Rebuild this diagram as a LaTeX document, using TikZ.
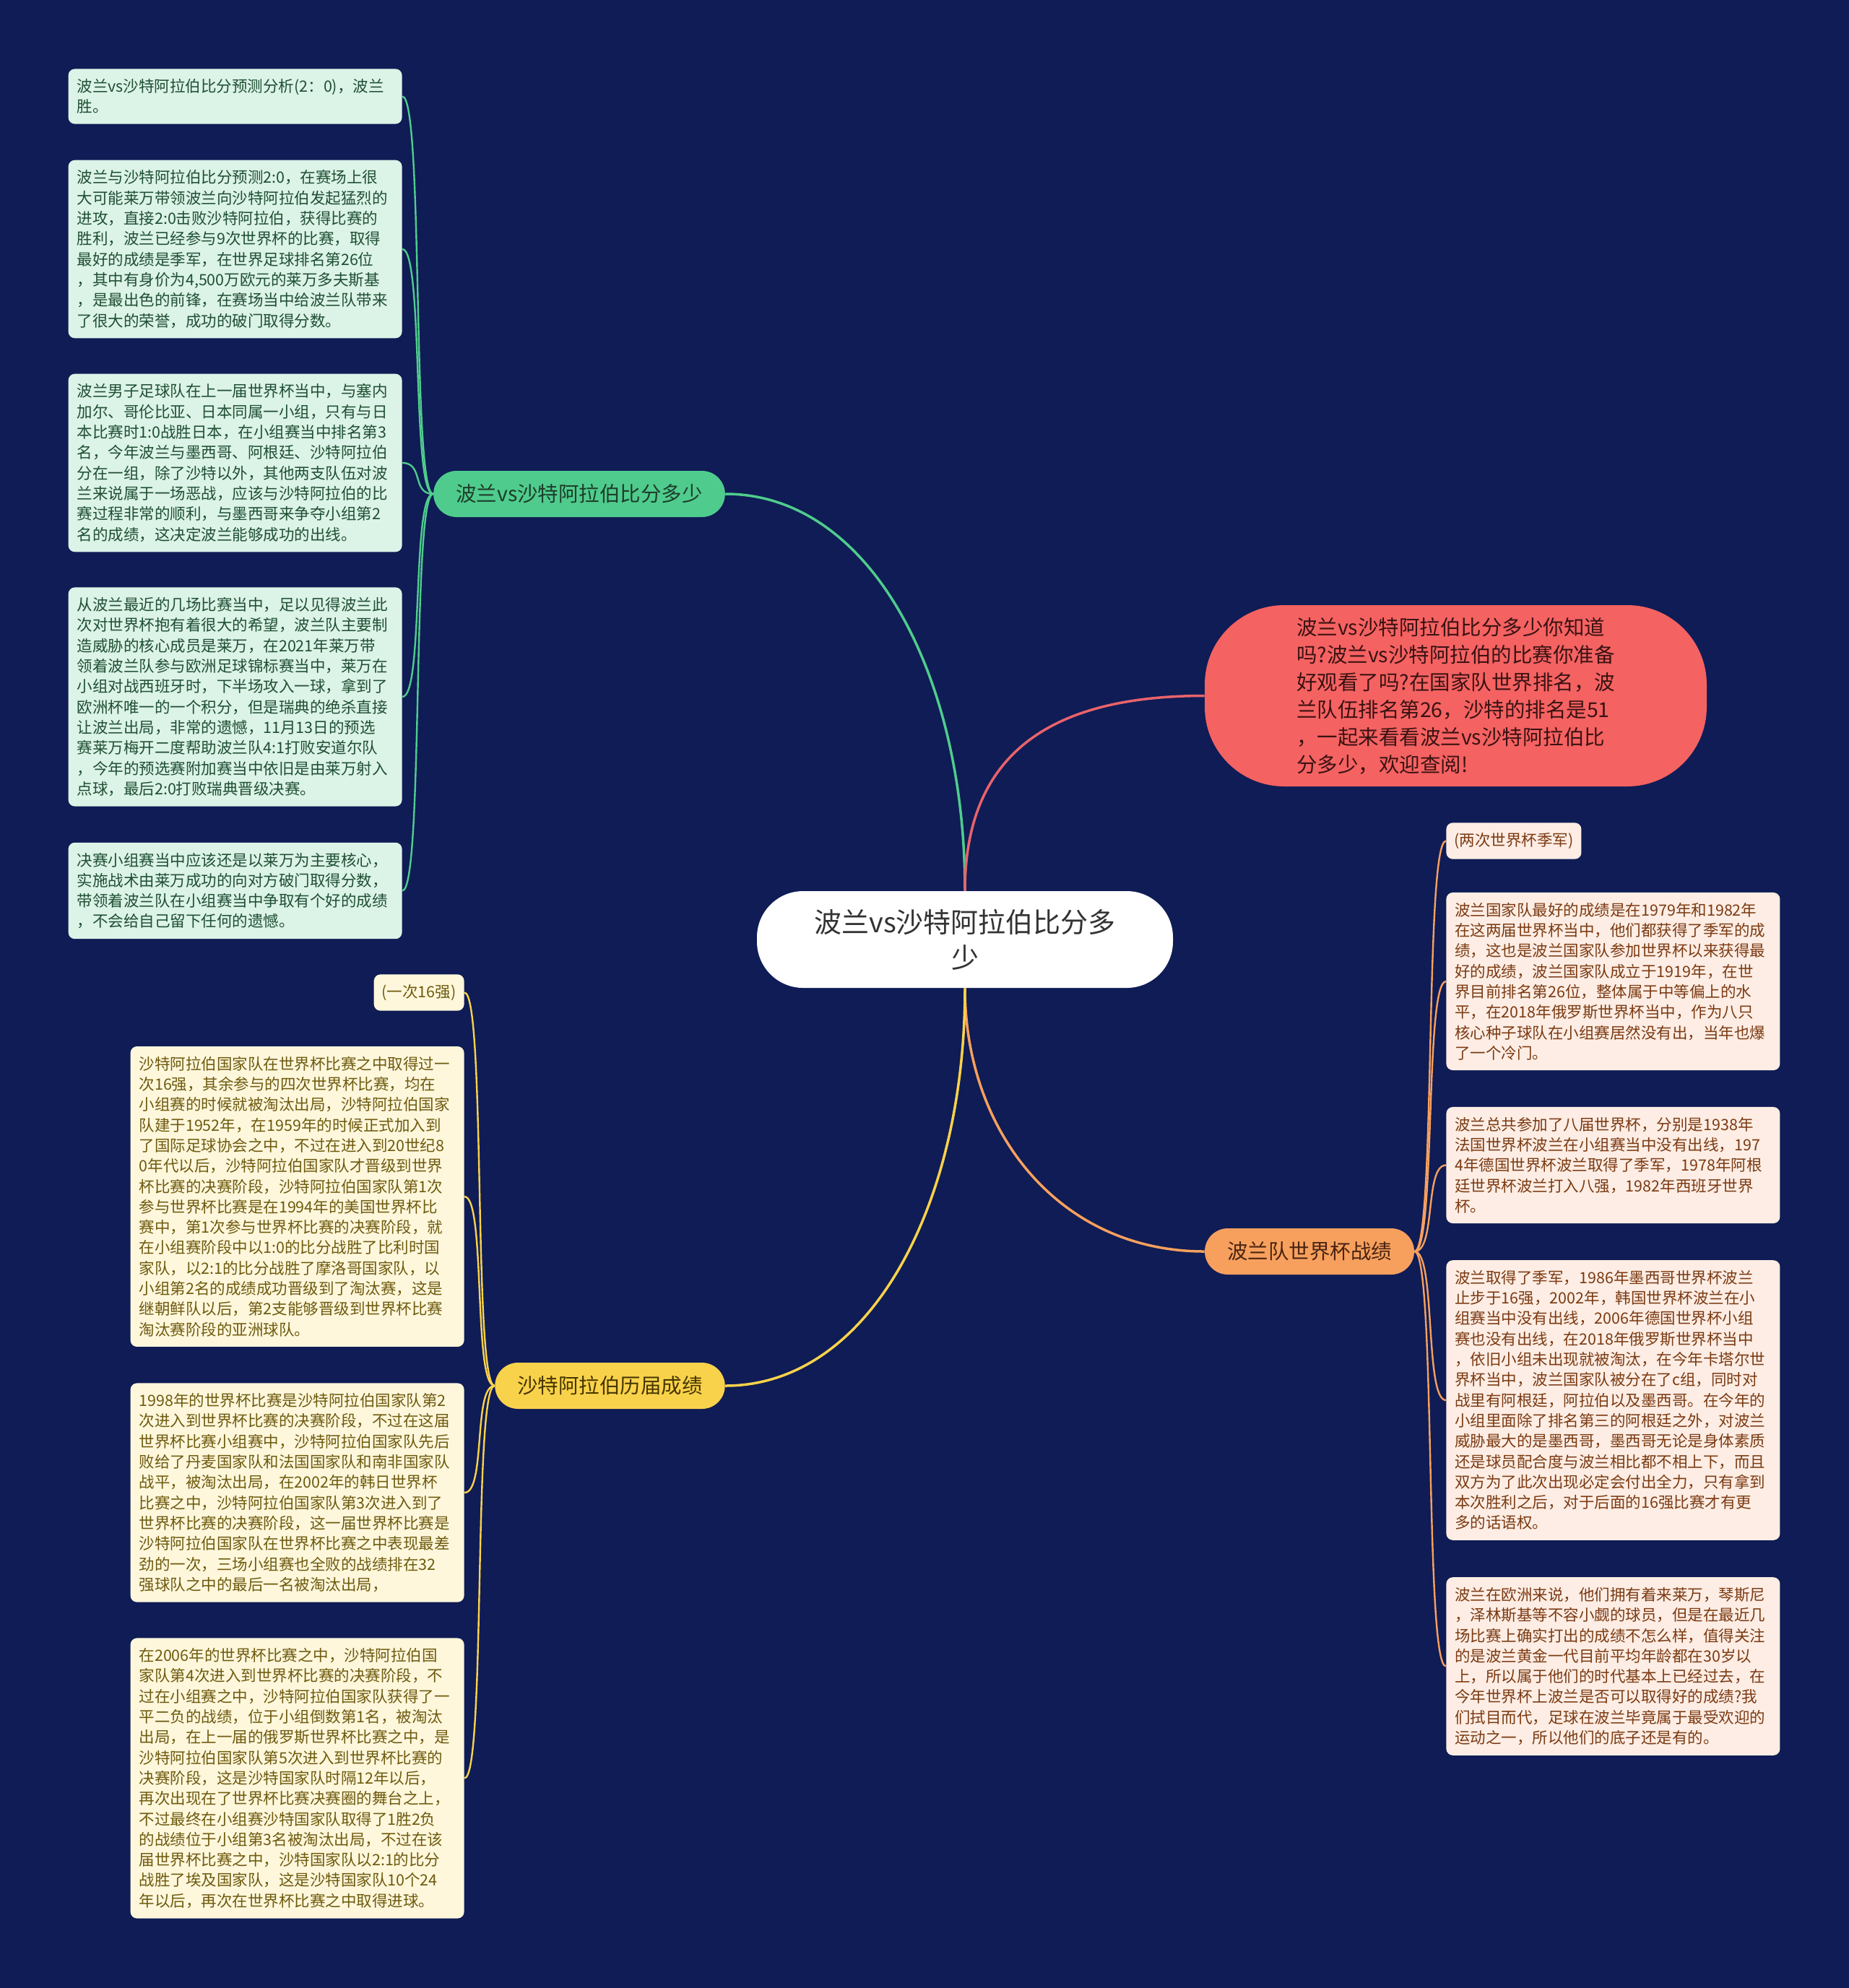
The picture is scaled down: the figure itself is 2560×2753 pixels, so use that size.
\documentclass[tikz,border=0pt]{standalone}
\usepackage{fontspec}
\setmainfont{Noto Sans CJK SC}

\definecolor{bgnavy}{HTML}{0F1C55}
\definecolor{rootink}{HTML}{333333}
\definecolor{introred}{HTML}{F56262}
\definecolor{introink}{HTML}{3A1212}
\definecolor{topicgreen}{HTML}{4FCC8D}
\definecolor{topicorange}{HTML}{F7A05E}
\definecolor{topicyellow}{HTML}{F9D24B}
\definecolor{lineRed}{HTML}{E9636B}
\definecolor{greenink}{HTML}{1E3D2B}
\definecolor{orangeink}{HTML}{4A2410}
\definecolor{yellowink}{HTML}{463600}
\definecolor{gleaffill}{HTML}{DCF3E7}
\definecolor{gleafink}{HTML}{1F4F33}
\definecolor{yleaffill}{HTML}{FEF7DC}
\definecolor{yleafink}{HTML}{6E5A0E}
\definecolor{oleaffill}{HTML}{FDEDE4}
\definecolor{oleafink}{HTML}{7B3A12}

\begin{document}
\begin{tikzpicture}[x=0.5pt, y=-0.5pt,
    root/.style={fill=white, rounded corners=32pt, minimum width=288pt, minimum height=67pt,
                 align=center, text=rootink, font=\fontsize{19}{24.5}\selectfont},
    intro/.style={fill=introred, rounded corners=55pt, minimum width=347.5pt, minimum height=125.5pt,
                  align=left, text=introink, font=\fontsize{14.25}{19}\selectfont},
    topic/.style={rounded corners=16pt, minimum height=32pt, inner xsep=15.5pt,
                  font=\fontsize{14.25}{17}\selectfont},
    leaf/.style={rounded corners=4.5pt, text width=219pt, inner xsep=6pt, inner ysep=7pt,
                 align=left, font=\fontsize{10.75}{14.15}\selectfont},
    tag/.style={rounded corners=4.5pt, inner xsep=5.5pt, inner ysep=7pt,
                font=\fontsize{10.75}{14.15}\selectfont},
    gleaf/.style={leaf, fill=gleaffill, text=gleafink},
    yleaf/.style={leaf, fill=yleaffill, text=yleafink},
    oleaf/.style={leaf, fill=oleaffill, text=oleafink},
    mainline/.style={line width=1.75pt},
    subline/.style={line width=1.2pt}]
  \fill[bgnavy] (0,0) rectangle (2560,2753);

  \node[root] (root) at (1336,1301) {波兰vs沙特阿拉伯比分多\\少};
  \node[intro] (intro) at (2015.5,963.5) {波兰vs沙特阿拉伯比分多少你知道\\吗?波兰vs沙特阿拉伯的比赛你准备\\好观看了吗?在国家队世界排名，波\\兰队伍排名第26，沙特的排名是51\\，一起来看看波兰vs沙特阿拉伯比\\分多少，欢迎查阅!};
  \node[topic, fill=topicgreen, text=greenink] (gtopic) at (802,684) {波兰vs沙特阿拉伯比分多少};
  \node[topic, fill=topicorange, text=orangeink] (otopic) at (1813,1733) {波兰队世界杯战绩};
  \node[topic, fill=topicyellow, text=yellowink] (ytopic) at (844.5,1919) {沙特阿拉伯历届成绩};

  \node[gleaf, anchor=east] (g1) at (557,133.5) {波兰vs沙特阿拉伯比分预测分析(2：0)，波兰\\胜。};
  \node[gleaf, anchor=east] (g2) at (557,345) {波兰与沙特阿拉伯比分预测2:0，在赛场上很\\大可能莱万带领波兰向沙特阿拉伯发起猛烈的\\进攻，直接2:0击败沙特阿拉伯，获得比赛的\\胜利，波兰已经参与9次世界杯的比赛，取得\\最好的成绩是季军，在世界足球排名第26位\\，其中有身价为4,500万欧元的莱万多夫斯基\\，是最出色的前锋，在赛场当中给波兰队带来\\了很大的荣誉，成功的破门取得分数。};
  \node[gleaf, anchor=east] (g3) at (557,641) {波兰男子足球队在上一届世界杯当中，与塞内\\加尔、哥伦比亚、日本同属一小组，只有与日\\本比赛时1:0战胜日本，在小组赛当中排名第3\\名，今年波兰与墨西哥、阿根廷、沙特阿拉伯\\分在一组，除了沙特以外，其他两支队伍对波\\兰来说属于一场恶战，应该与沙特阿拉伯的比\\赛过程非常的顺利，与墨西哥来争夺小组第2\\名的成绩，这决定波兰能够成功的出线。};
  \node[gleaf, anchor=east] (g4) at (557,965) {从波兰最近的几场比赛当中，足以见得波兰此\\次对世界杯抱有着很大的希望，波兰队主要制\\造威胁的核心成员是莱万，在2021年莱万带\\领着波兰队参与欧洲足球锦标赛当中，莱万在\\小组对战西班牙时，下半场攻入一球，拿到了\\欧洲杯唯一的一个积分，但是瑞典的绝杀直接\\让波兰出局，非常的遗憾，11月13日的预选\\赛莱万梅开二度帮助波兰队4:1打败安道尔队\\，今年的预选赛附加赛当中依旧是由莱万射入\\点球，最后2:0打败瑞典晋级决赛。};
  \node[gleaf, anchor=east] (g5) at (557,1233.5) {决赛小组赛当中应该还是以莱万为主要核心，\\实施战术由莱万成功的向对方破门取得分数，\\带领着波兰队在小组赛当中争取有个好的成绩\\，不会给自己留下任何的遗憾。};

  \node[tag, fill=yleaffill, text=yleafink, anchor=east] (y1) at (643,1374.5) {(一次16强)};
  \node[yleaf, anchor=east] (y2) at (643,1657) {沙特阿拉伯国家队在世界杯比赛之中取得过一\\次16强，其余参与的四次世界杯比赛，均在\\小组赛的时候就被淘汰出局，沙特阿拉伯国家\\队建于1952年，在1959年的时候正式加入到\\了国际足球协会之中，不过在进入到20世纪8\\0年代以后，沙特阿拉伯国家队才晋级到世界\\杯比赛的决赛阶段，沙特阿拉伯国家队第1次\\参与世界杯比赛是在1994年的美国世界杯比\\赛中，第1次参与世界杯比赛的决赛阶段，就\\在小组赛阶段中以1:0的比分战胜了比利时国\\家队，以2:1的比分战胜了摩洛哥国家队，以\\小组第2名的成绩成功晋级到了淘汰赛，这是\\继朝鲜队以后，第2支能够晋级到世界杯比赛\\淘汰赛阶段的亚洲球队。};
  \node[yleaf, anchor=east] (y3) at (643,2067) {1998年的世界杯比赛是沙特阿拉伯国家队第2\\次进入到世界杯比赛的决赛阶段，不过在这届\\世界杯比赛小组赛中，沙特阿拉伯国家队先后\\败给了丹麦国家队和法国国家队和南非国家队\\战平，被淘汰出局，在2002年的韩日世界杯\\比赛之中，沙特阿拉伯国家队第3次进入到了\\世界杯比赛的决赛阶段，这一届世界杯比赛是\\沙特阿拉伯国家队在世界杯比赛之中表现最差\\劲的一次，三场小组赛也全败的战绩排在32\\强球队之中的最后一名被淘汰出局，};
  \node[yleaf, anchor=east] (y4) at (643,2462.5) {在2006年的世界杯比赛之中，沙特阿拉伯国\\家队第4次进入到世界杯比赛的决赛阶段，不\\过在小组赛之中，沙特阿拉伯国家队获得了一\\平二负的战绩，位于小组倒数第1名，被淘汰\\出局，在上一届的俄罗斯世界杯比赛之中，是\\沙特阿拉伯国家队第5次进入到世界杯比赛的\\决赛阶段，这是沙特国家队时隔12年以后，\\再次出现在了世界杯比赛决赛圈的舞台之上，\\不过最终在小组赛沙特国家队取得了1胜2负\\的战绩位于小组第3名被淘汰出局，不过在该\\届世界杯比赛之中，沙特国家队以2:1的比分\\战胜了埃及国家队，这是沙特国家队10个24\\年以后，再次在世界杯比赛之中取得进球。};

  \node[tag, fill=oleaffill, text=oleafink, anchor=west] (o1) at (2002,1164.5) {(两次世界杯季军)};
  \node[oleaf, anchor=west] (o2) at (2002,1359) {波兰国家队最好的成绩是在1979年和1982年\\在这两届世界杯当中，他们都获得了季军的成\\绩，这也是波兰国家队参加世界杯以来获得最\\好的成绩，波兰国家队成立于1919年，在世\\界目前排名第26位，整体属于中等偏上的水\\平，在2018年俄罗斯世界杯当中，作为八只\\核心种子球队在小组赛居然没有出，当年也爆\\了一个冷门。};
  \node[oleaf, anchor=west] (o3) at (2002,1613.5) {波兰总共参加了八届世界杯，分别是1938年\\法国世界杯波兰在小组赛当中没有出线，197\\4年德国世界杯波兰取得了季军，1978年阿根\\廷世界杯波兰打入八强，1982年西班牙世界\\杯。};
  \node[oleaf, anchor=west] (o4) at (2002,1939) {波兰取得了季军，1986年墨西哥世界杯波兰\\止步于16强，2002年，韩国世界杯波兰在小\\组赛当中没有出线，2006年德国世界杯小组\\赛也没有出线，在2018年俄罗斯世界杯当中\\，依旧小组未出现就被淘汰，在今年卡塔尔世\\界杯当中，波兰国家队被分在了c组，同时对\\战里有阿根廷，阿拉伯以及墨西哥。在今年的\\小组里面除了排名第三的阿根廷之外，对波兰\\威胁最大的是墨西哥，墨西哥无论是身体素质\\还是球员配合度与波兰相比都不相上下，而且\\双方为了此次出现必定会付出全力，只有拿到\\本次胜利之后，对于后面的16强比赛才有更\\多的话语权。};
  \node[oleaf, anchor=west] (o5) at (2002,2307.5) {波兰在欧洲来说，他们拥有着来莱万，琴斯尼\\，泽林斯基等不容小觑的球员，但是在最近几\\场比赛上确实打出的成绩不怎么样，值得关注\\的是波兰黄金一代目前平均年龄都在30岁以\\上，所以属于他们的时代基本上已经过去，在\\今年世界杯上波兰是否可以取得好的成绩?我\\们拭目而代，足球在波兰毕竟属于最受欢迎的\\运动之一，所以他们的底子还是有的。};

  \draw[mainline, topicgreen] (root.north) .. controls +(0,-300) and +(200,0) .. (gtopic.east);
  \draw[mainline, lineRed] (root.north) .. controls +(0,-200) and +(-200,0) .. (intro.west);
  \draw[mainline, topicorange] (root.south) .. controls +(0,200) and +(-200,0) .. (otopic.west);
  \draw[mainline, topicyellow] (root.south) .. controls +(0,300) and +(200,0) .. (ytopic.east);

  \draw[subline, topicgreen] (gtopic.west) .. controls +(-30,0) and +(30,0) .. (g1.east);
  \draw[subline, topicgreen] (gtopic.west) .. controls +(-30,0) and +(30,0) .. (g2.east);
  \draw[subline, topicgreen] (gtopic.west) .. controls +(-30,0) and +(30,0) .. (g3.east);
  \draw[subline, topicgreen] (gtopic.west) .. controls +(-30,0) and +(30,0) .. (g4.east);
  \draw[subline, topicgreen] (gtopic.west) .. controls +(-30,0) and +(30,0) .. (g5.east);

  \draw[subline, topicyellow] (ytopic.west) .. controls +(-30,0) and +(30,0) .. (y1.east);
  \draw[subline, topicyellow] (ytopic.west) .. controls +(-30,0) and +(30,0) .. (y2.east);
  \draw[subline, topicyellow] (ytopic.west) .. controls +(-30,0) and +(30,0) .. (y3.east);
  \draw[subline, topicyellow] (ytopic.west) .. controls +(-30,0) and +(30,0) .. (y4.east);

  \draw[subline, topicorange] (otopic.east) .. controls +(30,0) and +(-30,0) .. (o1.west);
  \draw[subline, topicorange] (otopic.east) .. controls +(30,0) and +(-30,0) .. (o2.west);
  \draw[subline, topicorange] (otopic.east) .. controls +(30,0) and +(-30,0) .. (o3.west);
  \draw[subline, topicorange] (otopic.east) .. controls +(30,0) and +(-30,0) .. (o4.west);
  \draw[subline, topicorange] (otopic.east) .. controls +(30,0) and +(-30,0) .. (o5.west);
\end{tikzpicture}
\end{document}
